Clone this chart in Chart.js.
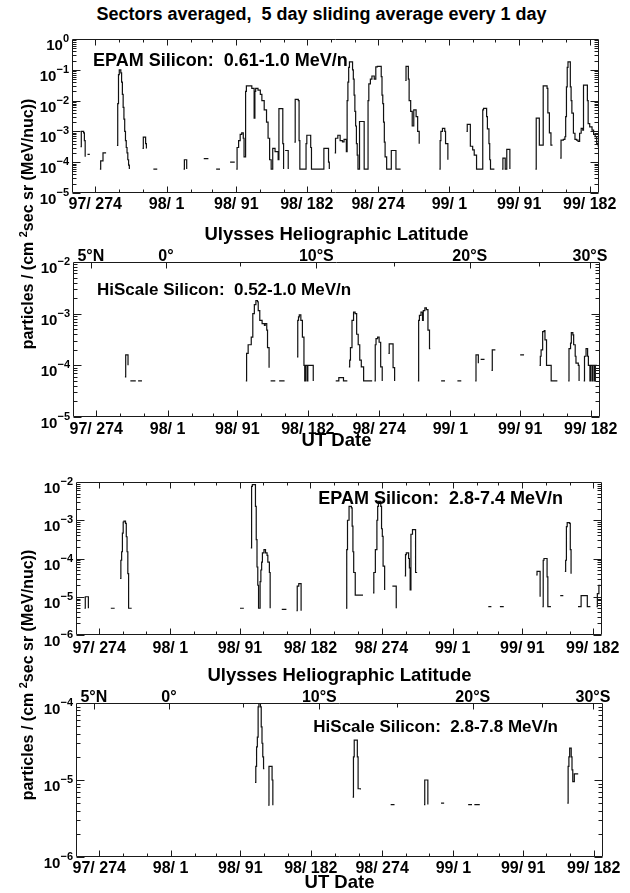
<!DOCTYPE html>
<html>
<head>
<meta charset="utf-8">
<script src="https://cdn.jsdelivr.net/npm/chart.js@4.4.1/dist/chart.umd.min.js"></script>
<style>
  html, body { margin: 0; padding: 0; background: #fff; }
  #page { position: relative; width: 630px; height: 893px; overflow: hidden;
    font-family: "Liberation Sans", Arial, Helvetica, sans-serif; font-weight: bold; color: #000; }
  .box { position: absolute; left: 0; width: 630px; }
  .txt { position: absolute; white-space: pre; line-height: 1; }
  .ylab { position: absolute; white-space: nowrap; font-size: 16px; line-height: 1;
    transform: translate(-50%, -50%) rotate(-90deg); }
  .ylab sup { font-size: 11px; vertical-align: 0; position: relative; top: -6px; }
</style>
</head>
<body>
<div id="page">
  <div class="txt" style="left:0;width:643px;text-align:center;top:5px;font-size:18px;">Sectors averaged,  5 day sliding average every 1 day</div>

  <div class="box" style="top:28px;height:192px;"><canvas id="c1" width="630" height="192"></canvas></div>
  <div class="box" style="top:222px;height:230px;"><canvas id="c2" width="630" height="230"></canvas></div>
  <div class="box" style="top:470px;height:190px;"><canvas id="c3" width="630" height="190"></canvas></div>
  <div class="box" style="top:662px;height:231px;"><canvas id="c4" width="630" height="231"></canvas></div>

  <div class="txt" style="left:93px;top:51px;font-size:18px;">EPAM Silicon:  0.61-1.0 MeV/n</div>
  <div class="txt" style="left:97px;top:281px;font-size:17px;">HiScale Silicon:  0.52-1.0 MeV/n</div>
  <div class="txt" style="right:67px;top:489px;font-size:18px;">EPAM Silicon:  2.8-7.4 MeV/n</div>
  <div class="txt" style="right:72px;top:718px;font-size:17px;">HiScale Silicon:  2.8-7.8 MeV/n</div>

  <div class="ylab" style="left:28px;top:224px;">particles / (cm <sup>2</sup>sec sr (MeV/nuc))</div>
  <div class="ylab" style="left:28px;top:675px;">particles / (cm <sup>2</sup>sec sr (MeV/nuc))</div>
</div>

<script>
// days counted from 97/274 (1 Oct 1997)
const DAY_MIN = -30;
const DAY_MAX = 650;

const tickDays = [0, 92, 182, 273, 365, 457, 547, 638];
const tickLabels = ["97/ 274", "98/ 1", "98/ 91", "98/ 182", "98/ 274", "99/ 1", "99/ 91", "99/ 182"];
const monthDays = [0, 31, 61, 92, 123, 151, 182, 212, 243, 273, 304, 335, 365, 396, 426, 457, 488, 516, 547, 577, 608, 638];

const latDays = [-7, 90, 284, 482, 637];
const latLabels = ["5°N", "0°", "10°S", "20°S", "30°S"];
const latMinorDays = [185, 384, 571];

// [day, flux]; null flux = no data
const epamLow = [
  [-19,3.2e-4],[-18,1.0e-3],[-15,9e-4],[-14,5e-4],[-13,1.5e-4],[-12,null],
  [-10,1.8e-4],[-7,1.8e-4],[-6,null],
  [6,6e-5],[7,1.1e-4],[10,2e-4],[14,2e-4],[15,null],
  [28,3.5e-4],[29,8e-3],[30,7e-2],[31,0.1],[33,8e-2],[34,4e-2],[35,1.6e-2],[36,6e-3],[37,2.5e-3],[38,1e-3],[39,5e-4],[40,3e-4],[41,2e-4],[42,1.2e-4],[43,8e-5],[44,6e-5],[45,null],
  [61,2.8e-4],[62,6.5e-4],[65,4e-4],[66,2.8e-4],[67,null],
  [75,6e-5],[80,6e-5],[81,null],
  [114,6e-5],[115,1.2e-4],[118,6e-5],[119,null],
  [140,1.3e-4],[146,1.3e-4],[147,null],
  [156,6e-5],[161,6e-5],[162,null],
  [174,1e-4],[180,1e-4],[181,null],
  [182,6e-5],[183,3e-4],[185,5e-4],[187,8e-4],[189,9e-4],[191,6e-4],[192,1.5e-4],[194,2e-2],[195,3e-2],[202,2.5e-2],[205,2.7e-3],[206,2e-2],[207,2.5e-2],[210,2.2e-2],[213,1.6e-2],[215,1e-2],[218,5e-3],[221,2e-3],[223,6e-4],[225,1.2e-4],[227,6e-5],[229,2.8e-4],[232,2.2e-4],[236,1.2e-4],[237,5.5e-3],[242,4e-4],[243,6e-5],[244,null],
  [245,2.4e-4],[249,6e-5],[250,null],
  [257,4.5e-4],[258,1.1e-2],[262,1e-2],[263,5e-4],[264,6e-5],[272,4e-4],[273,7.5e-4],[278,3e-4],[279,6e-5],[295,2.8e-4],[301,1e-4],[302,6e-5],[305,null],
  [309,2e-4],[310,6e-4],[313,7.5e-4],[316,5e-4],[319,4.6e-4],[321,5.5e-4],[324,2.2e-4],[325,1e-2],[326,4e-2],[327,0.12],[328,0.18],[332,0.1],[333,0.05],[334,1.5e-2],[335,4.5e-3],[336,1.5e-3],[337,4e-4],[338,1.7e-4],[339,6e-5],[341,2.1e-3],[346,2.1e-3],[347,6e-5],
  [352,1e-2],[353,3.5e-2],[355,5e-2],[357,6.3e-2],[360,5e-2],[362,0.125],[364,0.13],[369,6e-2],[370,1.5e-2],[371,8e-3],[372,2e-3],[373,4.5e-4],[374,1.5e-4],[376,6e-5],[382,2.4e-4],[388,6e-5],[394,6e-5],[395,null],
  [400,4.5e-2],[401,0.13],[404,0.05],[405,1e-2],[407,4.5e-3],[409,1.5e-3],[411,5e-3],[414,3e-3],[416,1e-3],[418,4e-4],[419,null],
  [444,6e-5],[445,5e-4],[446,1e-3],[448,1.26e-3],[451,1e-3],[452,4e-4],[455,1.2e-4],[456,null],
  [479,1e-3],[480,1.7e-3],[484,3.3e-4],[487,2.5e-4],[489,1.7e-4],[492,6e-5],[500,5e-3],[501,5.6e-3],[505,3e-3],[506,1.2e-3],[508,4e-4],[509,1.2e-4],[510,6e-5],[515,6e-5],[516,null],
  [525,6e-5],[526,1.35e-4],[529,6e-5],[531,2.6e-4],[535,6e-5],[538,null],
  [568,6e-5],[569,2.7e-3],[573,3.6e-4],[578,3e-2],[583,2.5e-2],[584,4e-3],[586,9e-4],[588,3.6e-4],[590,3.6e-4],[591,null],
  [600,1.35e-4],[601,5.2e-4],[604,5.5e-4],[606,6.7e-4],[607,3e-3],[608,2.8e-2],[609,0.12],[610,0.18],[613,2.8e-2],[614,1e-2],[615,3.9e-3],[617,8.7e-4],[619,5.5e-4],[621,5.2e-4],[623,4.7e-4],[625,8.7e-4],[627,1.26e-3],[629,1.1e-3],[630,3.2e-2],[635,1e-2],[636,1.8e-3],[638,1.4e-3],[641,1.1e-3],[643,8e-4],[645,6.7e-4],[647,4e-4],[649,3.3e-4],[651,3.3e-4]
];

const hiscaleLow = [
  [37,6e-5],[38,1.6e-4],[41,1e-4],[42,null],
  [44,5e-5],[51,5e-5],[52,null],[54,5e-5],[59,5e-5],[60,null],
  [193,5e-5],[194,1.7e-4],[196,2.5e-4],[200,3.5e-4],[202,1e-3],[204,1.5e-3],[206,1.8e-3],[208,1.7e-3],[209,1.15e-3],[211,7.4e-4],[214,6.4e-4],[217,5.9e-4],[218,6.4e-4],[220,4.8e-4],[221,2.2e-4],[223,9e-5],[224,null],
  [225,5e-5],[231,5e-5],[232,null],[236,5e-5],[243,5e-5],[244,null],
  [259,1.45e-4],[260,7.4e-4],[261,8.7e-4],[262,9.5e-4],[264,7.4e-4],[266,3.5e-4],[268,1e-4],[269,5e-5],[270,1e-4],[272,5e-5],[273,1e-4],[279,1e-4],[280,5e-5],[281,null],
  [309,5e-5],[313,5.8e-5],[319,5e-5],[324,5e-5],[325,null],
  [326,9.3e-5],[327,1.26e-4],[328,2.2e-4],[330,7.4e-4],[332,1.07e-3],[334,1e-3],[336,4e-4],[338,2.5e-4],[340,1.26e-4],[342,9.3e-5],[345,5e-5],[356,5e-5],[357,null],
  [359,5e-5],[360,2.5e-4],[361,3.3e-4],[363,3.5e-4],[365,2.8e-4],[367,9.3e-5],[369,5e-5],[370,null],
  [377,1.7e-4],[378,2.6e-4],[383,9e-5],[385,5e-5],[386,null],
  [415,5e-5],[416,7.4e-4],[417,9.3e-4],[419,1.07e-3],[421,7.4e-4],[422,1.15e-3],[424,1.3e-3],[426,1.2e-3],[428,4.8e-4],[430,2.1e-4],[431,2.1e-4],[432,null],
  [445,5e-5],[450,5e-5],[451,null],[466,5e-5],[471,5e-5],[472,null],
  [489,5e-5],[490,1.6e-4],[493,1.1e-4],[494,null],[496,1.3e-4],[501,1.3e-4],[502,null],
  [510,8e-5],[511,2e-4],[515,2e-4],[516,null],
  [547,1.6e-4],[552,1.6e-4],[553,null],
  [572,1e-4],[573,1.5e-4],[574,2e-4],[576,4.5e-4],[578,4.7e-4],[579,3.1e-4],[581,1e-4],[587,5e-5],[595,5e-5],[596,null],
  [609,5e-5],[610,2.1e-4],[612,2.7e-4],[613,4.3e-4],[615,3.9e-4],[616,2.5e-4],[618,1.5e-4],[619,1.1e-4],[622,1e-4],[623,5e-5],[624,null],
  [629,5e-5],[630,1.5e-4],[632,2.1e-4],[634,1.5e-4],[635,1e-4],[637,5e-5],[638,1e-4],[640,5e-5],[641,1e-4],[643,5e-5],[644,1e-4],[646,1e-4]
];

const epamHigh = [
  [-19,5e-6],[-18,1e-5],[-14,5e-6],[-13,null],
  [15,5e-6],[20,5e-6],[21,null],
  [27,3e-5],[28,9e-5],[29,1.5e-4],[30,4.6e-4],[31,9e-4],[32,9.5e-4],[34,8.3e-4],[35,3.7e-4],[36,1.5e-4],[37,4e-5],[38,5e-6],[42,5e-6],[43,null],
  [182,5e-6],[187,5e-6],[188,null],
  [196,1.9e-4],[197,7.7e-3],[198,8.5e-3],[201,8.5e-3],[202,2.3e-3],[203,3.1e-4],[204,6e-5],[205,2e-5],[206,5e-6],[208,2.5e-5],[209,5e-5],[210,8e-5],[211,1.4e-4],[213,1.7e-4],[215,1.4e-4],[217,1.2e-4],[218,8e-5],[220,4.3e-5],[221,5e-6],[222,null],
  [236,4.7e-6],[242,4.7e-6],[243,null],
  [255,4.3e-6],[256,1.9e-5],[258,2.2e-5],[261,4.3e-6],[262,null],
  [319,5e-6],[320,1.7e-4],[321,1e-3],[323,2.3e-3],[326,2.1e-3],[327,7e-4],[328,1.5e-4],[329,4.3e-5],[331,1.1e-5],[341,1.1e-5],[342,null],
  [354,1.26e-5],[355,4.3e-5],[357,1.7e-4],[359,1e-3],[360,2.3e-3],[361,3.1e-3],[364,2.3e-3],[365,6e-4],[366,3.8e-4],[367,6.3e-5],[369,1.5e-5],[370,null],
  [379,1.9e-5],[384,5e-6],[385,null],
  [395,3.5e-5],[396,1.26e-4],[397,1.4e-4],[400,1e-4],[401,5.7e-5],[402,1.5e-5],[403,4.3e-4],[405,5.7e-4],[409,4.3e-5],[411,4.3e-5],[412,null],
  [503,5.5e-6],[507,5.5e-6],[508,null],[518,5.5e-6],[523,5.5e-6],[524,null],
  [565,3.7e-5],[566,4.6e-5],[570,1e-5],[571,null],
  [573,5.5e-6],[574,9e-5],[575,1e-4],[579,3.3e-5],[580,5.5e-6],[584,5.5e-6],[585,null],
  [596,1.07e-5],[600,1.07e-5],[601,null],
  [602,4.6e-5],[603,9e-5],[604,6.8e-4],[605,8.7e-4],[608,8.3e-4],[609,1.7e-4],[610,4e-5],[611,null],
  [619,5.5e-6],[623,1.07e-5],[631,5.5e-6],[635,5.5e-6],[636,null],
  [643,5.5e-6],[644,1.2e-5],[646,2e-5],[648,2e-5]
];

const hiscaleHigh = [
  [201,9.3e-6],[202,1.5e-5],[203,2.7e-5],[204,3.6e-5],[205,8.9e-5],[206,1e-4],[208,8.9e-5],[209,4.9e-5],[210,3e-5],[211,2e-5],[212,1.4e-5],[213,1.4e-5],[214,null],
  [218,4.7e-6],[219,1.5e-5],[223,1e-5],[224,4.7e-6],[225,null],
  [327,6e-6],[328,2e-5],[329,3.3e-5],[333,2e-5],[334,7.7e-6],[337,7.5e-6],[338,null],
  [376,4.8e-6],[381,4.8e-6],[382,null],
  [419,4.8e-6],[420,1e-5],[424,4.8e-6],[425,null],
  [441,5e-6],[445,5e-6],[446,null],
  [476,4.8e-6],[481,4.8e-6],[482,null],[484,4.8e-6],[491,4.8e-6],[492,null],
  [604,5e-6],[605,1.5e-5],[606,2e-5],[607,2.6e-5],[609,2e-5],[610,1.35e-5],[611,9.5e-6],[613,1.2e-5],[618,1.2e-5]
];

const FONT = '"Liberation Sans", Arial, Helvetica, sans-serif';
Chart.defaults.font.family = FONT;
Chart.defaults.color = "#000";

// frame, inward ticks and 10^n labels
function frameTicks(withLat) {
  return {
    id: "frameTicks",
    afterDraw(chart) {
      const { ctx, chartArea: a } = chart;
      const xs = chart.scales.x, ys = chart.scales.y;
      const L = Math.round(a.left) + 0.5, R = Math.round(a.right) - 0.5;
      const T = Math.round(a.top) + 0.5, B = Math.round(a.bottom) - 0.5;
      const seg = (x1, y1, x2, y2) => { ctx.moveTo(x1, y1); ctx.lineTo(x2, y2); };
      ctx.save();
      ctx.strokeStyle = "#1a1a1a";
      ctx.lineWidth = 1;
      ctx.beginPath();
      ctx.rect(L, T, R - L, B - T);
      monthDays.forEach(d => {
        const px = Math.round(xs.getPixelForValue(d)) + 0.5;
        const len = tickDays.includes(d) ? 6 : 3;
        seg(px, B, px, B - len);
        if (!withLat) seg(px, T, px, T + len);
      });
      if (withLat) {
        latDays.concat(latMinorDays).forEach(d => {
          const px = Math.round(xs.getPixelForValue(d)) + 0.5;
          seg(px, T, px, T + (latDays.includes(d) ? 6 : 4));
        });
      }
      const eMin = Math.round(Math.log10(ys.min)), eMax = Math.round(Math.log10(ys.max));
      for (let e = eMin; e < eMax; e++) {
        for (let k = 1; k <= 9; k++) {
          const py = Math.round(ys.getPixelForValue(k * Math.pow(10, e))) + 0.5;
          const len = k === 1 ? 8 : 4;
          seg(L, py, L + len, py);
          seg(R, py, R - len, py);
        }
      }
      ctx.stroke();

      ctx.fillStyle = "#000";
      ctx.textBaseline = "alphabetic";
      for (let e = eMin; e <= eMax; e++) {
        const py = ys.getPixelForValue(Math.pow(10, e));
        const exp = e === 0 ? "0" : "\u2212" + (-e);
        ctx.font = "bold 11px " + FONT;
        const ew = ctx.measureText(exp).width;
        ctx.textAlign = "left";
        ctx.fillText(exp, a.left - 3 - ew, py + 3);
        ctx.font = "bold 15px " + FONT;
        ctx.textAlign = "right";
        ctx.fillText("10", a.left - 3 - ew, py + 11);
      }
      ctx.restore();
    }
  };
}

function makePanel(id, series, yMin, yMax, box) {
  const tickFont = { family: FONT, size: 16, weight: "bold", lineHeight: 1 };
  const titleFont = { family: FONT, size: 18.5, weight: "bold", lineHeight: 1 };
  const scales = {
    x: {
      type: "linear", position: "bottom", min: DAY_MIN, max: DAY_MAX,
      grid: { display: false, drawTicks: false }, border: { display: false },
      afterBuildTicks: s => { s.ticks = tickDays.map(v => ({ value: v })); },
      ticks: {
        autoSkip: false, maxRotation: 0, padding: box.tickPad, color: "#000", font: tickFont,
        callback: v => { const i = tickDays.indexOf(v); return i < 0 ? "" : tickLabels[i]; }
      },
      title: { display: box.lat, text: "UT Date", color: "#000", font: titleFont, padding: { top: 0, bottom: box.utPad } },
      afterFit: s => { s.height = box.bottomH; }
    },
    y: {
      type: "logarithmic", position: "left", min: yMin, max: yMax,
      grid: { display: false, drawTicks: false }, border: { display: false },
      ticks: { display: false },
      afterFit: s => { s.width = box.leftW; }
    }
  };
  if (box.lat) {
    scales.x2 = {
      type: "linear", position: "top", min: DAY_MIN, max: DAY_MAX,
      grid: { display: false, drawTicks: false }, border: { display: false },
      afterBuildTicks: s => { s.ticks = latDays.map(v => ({ value: v })); },
      ticks: {
        autoSkip: false, maxRotation: 0, padding: -3, color: "#000", font: tickFont,
        callback: v => { const i = latDays.indexOf(v); return i < 0 ? "" : latLabels[i]; }
      },
      title: { display: true, text: "Ulysses Heliographic Latitude", color: "#000", font: titleFont, padding: { top: box.latPad, bottom: 0 } },
      afterFit: s => { s.height = box.topH; }
    };
  }
  return new Chart(document.getElementById(id), {
    type: "line",
    data: {
      datasets: [{
        data: series.map(p => ({ x: p[0], y: p[1] })),
        borderColor: "#111",
        borderWidth: 1.2,
        pointRadius: 0,
        stepped: true,
        spanGaps: false,
        fill: false
      }]
    },
    options: {
      responsive: false,
      animation: false,
      events: [],
      layout: { padding: { top: box.padTop, right: box.padRight, bottom: 0, left: 0 } },
      plugins: { legend: { display: false }, tooltip: { enabled: false } },
      scales
    },
    plugins: [frameTicks(box.lat)]
  });
}

makePanel("c1", epamLow, 1e-5, 1, { padTop: 11, padRight: 31, leftW: 72, bottomH: 27, lat: false, tickPad: 4 });
makePanel("c2", hiscaleLow, 1e-5, 1e-2, { padTop: 0, padRight: 30, leftW: 73, bottomH: 35, topH: 40, lat: true, utPad: 2, latPad: 4, tickPad: 5 });
makePanel("c3", epamHigh, 1e-6, 1e-2, { padTop: 12, padRight: 28, leftW: 76, bottomH: 25, lat: false, tickPad: 6 });
makePanel("c4", hiscaleHigh, 1e-6, 1e-4, { padTop: 0, padRight: 27, leftW: 76, bottomH: 36, topH: 41, lat: true, utPad: 1, latPad: 5, tickPad: 4 });
</script>
</body>
</html>
